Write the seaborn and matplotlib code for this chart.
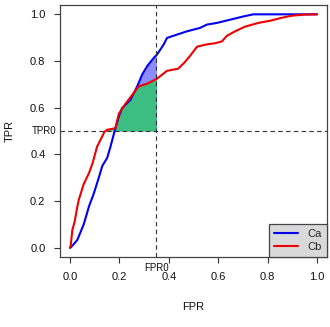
import numpy as np
import matplotlib
matplotlib.use("Agg")
import matplotlib.pyplot as plt
import seaborn as sns
from matplotlib.lines import Line2D

# ROC curve of classifier Ca (false positive rate, true positive rate)
fpr_a = [0.0, 0.003, 0.03, 0.056, 0.077, 0.097, 0.117, 0.131, 0.151, 0.164, 0.175,
         0.184, 0.198, 0.211, 0.245, 0.272, 0.292, 0.312, 0.339, 0.352, 0.379,
         0.393, 0.433, 0.473, 0.527, 0.554, 0.594, 0.648, 0.702, 0.742, 1.0]
tpr_a = [0.0, 0.0, 0.033, 0.10, 0.176, 0.233, 0.30, 0.35, 0.385, 0.432, 0.476,
         0.512, 0.562, 0.598, 0.634, 0.691, 0.741, 0.777, 0.813, 0.827, 0.870,
         0.899, 0.913, 0.927, 0.942, 0.956, 0.963, 0.977, 0.991, 1.0, 1.0]

# ROC curve of classifier Cb
fpr_b = [0.0, 0.003, 0.01, 0.019, 0.03, 0.036, 0.056, 0.077, 0.092, 0.11, 0.124,
         0.14, 0.151, 0.184, 0.198, 0.225, 0.258, 0.278, 0.313, 0.352, 0.393,
         0.438, 0.463, 0.487, 0.514, 0.547, 0.587, 0.615, 0.635, 0.668, 0.708,
         0.762, 0.816, 0.856, 0.897, 0.95, 1.0]
tpr_b = [0.0, 0.007, 0.076, 0.11, 0.175, 0.205, 0.273, 0.319, 0.363, 0.433, 0.462,
         0.497, 0.505, 0.512, 0.574, 0.617, 0.663, 0.691, 0.703, 0.724, 0.758,
         0.767, 0.793, 0.823, 0.861, 0.870, 0.876, 0.884, 0.908, 0.927, 0.947,
         0.963, 0.974, 0.985, 0.994, 0.999, 1.0]

# operating constraints
FPR0 = 0.35
TPR0 = 0.50

ticks = [0.0, 0.2, 0.4, 0.6, 0.8, 1.0]
tick_labels = ["0.0", "0.2", "0.4", "0.6", "0.8", "1.0"]
names = ["Ca", "Cb"]
colors = ["#0000ee", "#ee0000"]

sns.set_theme(style="ticks")
plt.rcParams["font.family"] = ["Liberation Sans", "DejaVu Sans"]

fig = plt.figure(figsize=(3.30, 3.27), dpi=100)
ax = fig.add_axes([60 / 330, 1 - 257 / 327, 267 / 330, 252 / 327])

# partial areas: FPR <= FPR0 and TPR >= TPR0
grid = np.linspace(0, FPR0, 400)
ya = np.interp(grid, fpr_a, tpr_a)
yb = np.interp(grid, fpr_b, tpr_b)
ax.fill_between(grid, TPR0, ya, where=ya >= TPR0, interpolate=True,
                color=(0.0, 0.0, 1.0), alpha=0.45, linewidth=0)
ax.fill_between(grid, TPR0, yb, where=yb >= TPR0, interpolate=True,
                color=(33 / 255, 207 / 255, 88 / 255), alpha=0.75, linewidth=0)

sns.lineplot(x=fpr_a, y=tpr_a, color=colors[0], lw=1.5, sort=False,
             estimator=None, ax=ax)
sns.lineplot(x=fpr_b, y=tpr_b, color=colors[1], lw=1.5, sort=False,
             estimator=None, ax=ax)

ax.axhline(TPR0, color="#333333", lw=0.8, ls=(0, (4, 3)))
ax.axvline(FPR0, color="#333333", lw=0.8, ls=(0, (4, 3)))

ax.set_xlim(-0.04, 1.04)
ax.set_ylim(-0.04, 1.04)
ax.set_xticks(ticks)
ax.set_xticklabels(tick_labels)
ax.set_yticks(ticks)
ax.set_yticklabels(tick_labels)
ax.tick_params(axis="both", direction="out", length=4.5, width=0.8,
               color="#333333", labelsize=8, labelcolor="#111111")
ax.tick_params(axis="x", pad=6)
ax.tick_params(axis="y", pad=6)
for s in ax.spines.values():
    s.set_visible(True)
    s.set_color("#444444")
    s.set_linewidth(0.9)

ax.text(-0.055, TPR0, "TPR0", ha="right", va="center", fontsize=7,
        color="#111111", transform=ax.transData, clip_on=False)
ax.text(FPR0, -0.088, "FPR0", ha="center", va="center", fontsize=7,
        color="#111111", transform=ax.transData, clip_on=False)

fig.text(193.5 / 330, 1 - 307 / 327, "FPR", ha="center", va="center",
         fontsize=8, color="#111111")
fig.text(10 / 330, 1 - 131 / 327, "TPR", ha="center", va="center",
         fontsize=8, rotation=90, color="#111111")

handles = [Line2D([], [], color=c, lw=1.5) for c in colors]
leg = ax.legend(handles, names, loc="lower right", fontsize=8, frameon=True,
                fancybox=False, borderaxespad=0, borderpad=0.45,
                handlelength=2.1, handletextpad=0.9, labelspacing=0.25)
leg.get_frame().set_facecolor("#d9d9d9")
leg.get_frame().set_edgecolor("#444444")
leg.get_frame().set_linewidth(0.9)
leg.get_frame().set_alpha(1)

fig.savefig("out.png", dpi=100)
